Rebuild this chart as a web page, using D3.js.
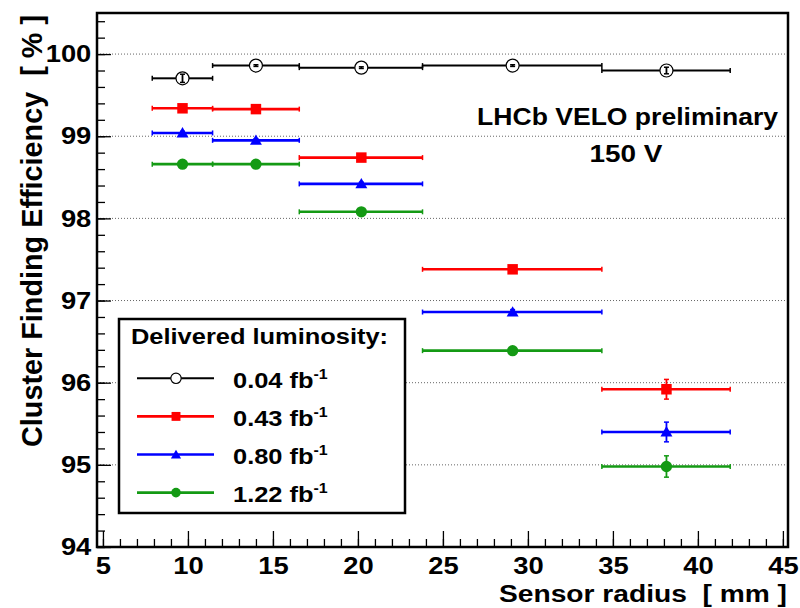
<!DOCTYPE html>
<html>
<head>
<meta charset="utf-8">
<script src="https://cdn.jsdelivr.net/npm/d3@7"></script>
<style>
  html, body { margin: 0; padding: 0; background: #fff; }
  svg { display: block; }
  text { font-family: "Liberation Sans", Arial, Helvetica, sans-serif; font-weight: bold; fill: #000; white-space: pre; }
</style>
</head>
<body>
<svg id="chart" width="800" height="608"></svg>
<script>
// Sensor radius bins [mm]: centres and edges
const radius     = [9.68, 14.0, 20.2, 29.1, 38.15];
const radiusLow  = [7.9, 11.45, 16.55, 23.8, 34.35];
const radiusHigh = [11.45, 16.55, 23.8, 34.35, 41.9];

// Cluster finding efficiency [%] per delivered luminosity
const eff004 = [99.705, 99.86, 99.835, 99.86, 99.80];
const eff043 = [99.34, 99.33, 98.74, 97.38, 95.92];
const eff080 = [99.04, 98.95, 98.42, 96.86, 95.40];
const eff122 = [98.66, 98.66, 98.08, 96.39, 94.98];

// Statistical uncertainties [%]
const err004 = [0.05, 0.01, 0.01, 0.01, 0.04];
const err043 = [0.02, 0.02, 0.02, 0.03, 0.12];
const err080 = [0.02, 0.02, 0.02, 0.03, 0.12];
const err122 = [0.02, 0.02, 0.02, 0.03, 0.13];

const seriesLabels = ["0.04", "0.43", "0.80", "1.22"];

const xTicks = [5, 10, 15, 20, 25, 30, 35, 40, 45];
const yTicks = [94, 95, 96, 97, 98, 99, 100];

const series = [
  { label: seriesLabels[0], values: eff004, errors: err004, color: "#000000", symbol: "openCircle", width: 2 },
  { label: seriesLabels[1], values: eff043, errors: err043, color: "#ff0000", symbol: "square", width: 2.6 },
  { label: seriesLabels[2], values: eff080, errors: err080, color: "#0000ff", symbol: "triangle", width: 2.6 },
  { label: seriesLabels[3], values: eff122, errors: err122, color: "#149a14", symbol: "circle", width: 2.6 }
];

const svg = d3.select("#chart");
const frame = { left: 97, right: 788, top: 13, bottom: 547 };
const SX = 1.14; // horizontal widening of the bold face

const x = d3.scaleLinear().domain([4.65, 45.3]).range([frame.left, frame.right]);
const y = d3.scaleLinear().domain([94, 100.5]).range([frame.bottom, frame.top]);

// dotted horizontal grid
svg.append("g").selectAll("line")
  .data(yTicks.filter(v => v > 94))
  .join("line")
  .attr("x1", frame.left).attr("x2", frame.right)
  .attr("y1", d => y(d)).attr("y2", d => y(d))
  .attr("stroke", "#666").attr("stroke-width", 1)
  .attr("stroke-dasharray", "1,2");

// axes: ticks point into the frame
const minorY = d3.range(94, 100.5001, 0.2).map(v => +v.toFixed(1));
const minorX = d3.range(5, 45.001, 1);

const yMinor = svg.append("g").attr("transform", `translate(${frame.left},0)`)
  .call(d3.axisLeft(y).tickValues(minorY).tickSize(-8).tickFormat(""));
const yMajor = svg.append("g").attr("transform", `translate(${frame.left},0)`)
  .call(d3.axisLeft(y).tickValues(yTicks).tickSize(-14).tickPadding(5).tickFormat(d3.format("d")));
const xMinor = svg.append("g").attr("transform", `translate(0,${frame.bottom})`)
  .call(d3.axisBottom(x).tickValues(minorX).tickSize(-8).tickFormat(""));
const xMajor = svg.append("g").attr("transform", `translate(0,${frame.bottom})`)
  .call(d3.axisBottom(x).tickValues(xTicks).tickSize(-16).tickPadding(10).tickFormat(d3.format("d")));

[yMinor, yMajor, xMinor, xMajor].forEach(g => {
  g.select(".domain").remove();
  g.selectAll(".tick line").attr("stroke", "#000").attr("stroke-width", 1.3);
});
yMajor.selectAll(".tick text")
  .style("font-size", "24px").attr("font-family", null)
  .attr("transform", `scale(${SX},1)`);
xMajor.selectAll(".tick text")
  .style("font-size", "24px").attr("font-family", null)
  .attr("dy", "0.72em")
  .attr("transform", `scale(${SX},1)`);

// frame
svg.append("rect")
  .attr("x", frame.left).attr("y", frame.top)
  .attr("width", frame.right - frame.left).attr("height", frame.bottom - frame.top)
  .attr("fill", "none").attr("stroke", "#000").attr("stroke-width", 2.5);

// marker drawing
function drawMarker(g, kind, color, cx, cy, scale) {
  const s = scale || 1;
  if (kind === "openCircle") {
    g.append("circle").attr("cx", cx).attr("cy", cy).attr("r", 6.5 * s)
      .attr("fill", "none").attr("stroke", color).attr("stroke-width", 1.2);
  } else if (kind === "square") {
    g.append("path").attr("transform", `translate(${cx},${cy})`)
      .attr("d", d3.symbol(d3.symbolSquare, 110 * s * s)()).attr("fill", color);
  } else if (kind === "triangle") {
    g.append("path").attr("transform", `translate(${cx},${cy + 1})`)
      .attr("d", d3.symbol(d3.symbolTriangle, 62 * s * s)()).attr("fill", color);
  } else {
    g.append("path").attr("transform", `translate(${cx},${cy})`)
      .attr("d", d3.symbol(d3.symbolCircle, 100 * s * s)()).attr("fill", color);
  }
}

const plot = svg.append("g");
series.forEach(s => {
  const g = plot.append("g");
  s.values.forEach((v, i) => {
    const cx = x(radius[i]), cy = y(v);
    const x0 = x(radiusLow[i]), x1 = x(radiusHigh[i]);
    const gap = s.symbol === "openCircle" ? 6.5 : 0;
    const line = (a, b, c, d, w) => g.append("line")
      .attr("x1", a).attr("y1", b).attr("x2", c).attr("y2", d)
      .attr("stroke", s.color).attr("stroke-width", w || s.width);
    // horizontal bin width
    if (gap) { line(x0, cy, cx - gap, cy); line(cx + gap, cy, x1, cy); }
    else line(x0, cy, x1, cy);
    line(x0, cy - 2.5, x0, cy + 2.5, 1.5);
    line(x1, cy - 2.5, x1, cy + 2.5, 1.5);
    // vertical uncertainty
    const ya = y(v + s.errors[i]), yb = y(v - s.errors[i]);
    line(cx, ya, cx, yb, 1.8);
    line(cx - 2.5, ya, cx + 2.5, ya, 1.5);
    line(cx - 2.5, yb, cx + 2.5, yb, 1.5);
    drawMarker(g, s.symbol, s.color, cx, cy);
  });
});

// legend
const lg = svg.append("g");
lg.append("rect").attr("x", 119).attr("y", 319).attr("width", 286).attr("height", 194)
  .attr("fill", "#fff").attr("stroke", "#000").attr("stroke-width", 2.5);
lg.append("text").attr("transform", `translate(131,344) scale(${SX},1)`)
  .style("font-size", "22.3px").text("Delivered luminosity:");
series.forEach((s, i) => {
  const cy = 378.3 + i * 38.1;
  lg.append("line").attr("x1", 137).attr("x2", 214).attr("y1", cy).attr("y2", cy)
    .attr("stroke", s.color).attr("stroke-width", s.width);
  if (s.symbol === "openCircle") {
    lg.append("circle").attr("cx", 176).attr("cy", cy).attr("r", 5.2)
      .attr("fill", "#fff").attr("stroke", s.color).attr("stroke-width", 1.2);
  } else {
    drawMarker(lg, s.symbol, s.color, 176, cy, 0.85);
  }
  const t = lg.append("text").attr("transform", `translate(233,${cy + 9.5}) scale(${SX},1)`)
    .style("font-size", "22.3px");
  t.append("tspan").text(s.label + " fb");
  t.append("tspan").attr("dy", -9).style("font-size", "14px").text("-1");
});

// annotations
svg.append("text").attr("transform", `translate(778,125) scale(${SX},1)`)
  .attr("text-anchor", "end").style("font-size", "23.3px").text("LHCb VELO preliminary");
svg.append("text").attr("transform", `translate(626,162) scale(${SX},1)`)
  .attr("text-anchor", "middle").style("font-size", "24.5px").text("150 V");

// axis titles
svg.append("text").attr("transform", `translate(787,602) scale(1.15,1)`)
  .attr("text-anchor", "end").style("font-size", "24.5px").text("Sensor radius  [ mm ]");
svg.append("text").attr("transform", `translate(42,15) rotate(-90)`)
  .attr("text-anchor", "end").style("font-size", "28.8px").text("Cluster Finding Efficiency  [ % ]");
</script>
</body>
</html>
